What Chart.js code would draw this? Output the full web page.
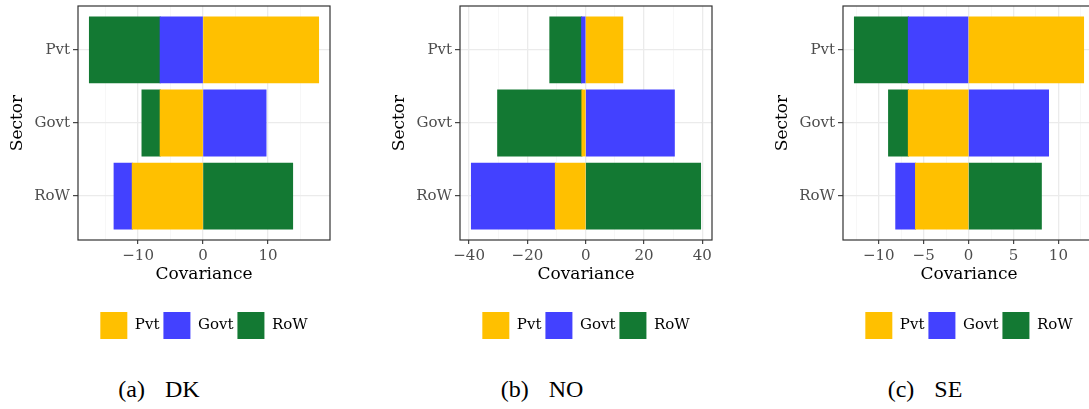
<!DOCTYPE html>
<html>
<head>
<meta charset="utf-8">
<script src="https://cdn.jsdelivr.net/npm/chart.js@4.4.1/dist/chart.umd.min.js"></script>
<style>
  body { margin: 0; width: 1089px; height: 409px; overflow: hidden; background: #fff; position: relative; }
  .panel { position: absolute; top: 0; }
  .caption {
    position: absolute; top: 377px; line-height: 24px;
    font-family: 'Liberation Serif', serif; font-size: 24px; color: #000;
    word-spacing: 14px; white-space: nowrap; transform: translateX(-50%);
  }
</style>
</head>
<body>
<div class="panel" style="left:0px"><canvas id="dk" width="382" height="349"></canvas></div>
<div class="panel" style="left:382px"><canvas id="no" width="382" height="349"></canvas></div>
<div class="panel" style="left:765px"><canvas id="se" width="382" height="349"></canvas></div>
<div class="caption" style="left:159px">(a) DK</div>
<div class="caption" style="left:542px">(b) NO</div>
<div class="caption" style="left:925px">(c) SE</div>

<script>
const sectors = ['Pvt', 'Govt', 'RoW'];
const seriesNames = ['Pvt', 'Govt', 'RoW'];
const seriesColors = ['#FFC000', '#4341FF', '#137933'];

// values per sector row (Pvt, Govt, RoW), one array per stacked series
const dkPvt  = [17.8, -6.6, -10.9];
const dkGovt = [-6.6, 9.7, -2.8];
const dkRoW  = [-10.9, -2.8, 13.8];
const dkTicks = [-10, 0, 10];

const noPvt  = [12.7, -1.3, -10.4];
const noGovt = [-1.4, 30.4, -28.8];
const noRoW  = [-10.9, -28.9, 39.4];
const noTicks = [-40, -20, 0, 20, 40];

const sePvt  = [12.8, -6.7, -5.9];
const seGovt = [-6.7, 8.9, -2.2];
const seRoW  = [-6.0, -2.2, 8.1];
const seTicks = [-10, -5, 0, 5, 10];

const serif = 'DejaVu Serif';

const panelBorder = {
  id: 'panelBorder',
  afterDatasetsDraw(chart) {
    const { ctx, chartArea: a } = chart;
    ctx.save();
    ctx.strokeStyle = '#333333';
    ctx.lineWidth = 1.2;
    ctx.strokeRect(a.left, a.top, a.right - a.left, a.bottom - a.top);
    ctx.restore();
  }
};

function fmt(v) {
  return v < 0 ? '\u2212' + Math.abs(v) : String(v);
}

function makeChart(id, series, majors) {
  // ggplot style range: stacked extent plus 5% each side
  let lo = 0, hi = 0;
  sectors.forEach((s, i) => {
    let neg = 0, pos = 0;
    series.forEach(vals => { if (vals[i] < 0) neg += vals[i]; else pos += vals[i]; });
    lo = Math.min(lo, neg);
    hi = Math.max(hi, pos);
  });
  const pad = (hi - lo) * 0.05;
  const xmin = lo - pad, xmax = hi + pad;

  const step = majors[1] - majors[0];
  const minors = [];
  for (let v = majors[0] - step / 2; v <= majors[majors.length - 1] + step / 2; v += step) {
    if (v > xmin && v < xmax) minors.push(v);
  }
  const isMajor = v => majors.includes(v);

  new Chart(document.getElementById(id), {
    type: 'bar',
    data: {
      datasets: series.map((vals, j) => ({
        label: seriesNames[j],
        data: vals.map((v, i) => ({ x: v, y: i + 1 })),
        backgroundColor: seriesColors[j],
        borderWidth: 0,
        inflateAmount: 0.5,
        stack: 'all',
        categoryPercentage: 0.9,
        barPercentage: 1
      }))
    },
    options: {
      indexAxis: 'y',
      responsive: false,
      animation: false,
      layout: { padding: { top: 6, right: 52, bottom: 0, left: 0 } },
      plugins: {
        tooltip: { enabled: false },
        legend: {
          position: 'bottom',
          fullSize: false,
          labels: {
            boxWidth: 27,
            boxHeight: 27,
            padding: 4,
            color: '#000',
            font: { family: serif, size: 15 }
          }
        }
      },
      scales: {
        x: {
          type: 'linear',
          stacked: true,
          min: xmin,
          max: xmax,
          afterBuildTicks: s => {
            s.ticks = majors.concat(minors).sort((a, b) => a - b).map(v => ({ value: v }));
          },
          afterFit: s => { s.height = 68; s.paddingLeft = 0; s.paddingRight = 0; },
          border: { display: false },
          grid: {
            color: c => isMajor(c.tick.value) ? '#EBEBEB' : '#F3F3F3',
            lineWidth: c => isMajor(c.tick.value) ? 1.3 : 0.7,
            tickColor: c => isMajor(c.tick.value) ? '#333333' : 'rgba(0,0,0,0)',
            tickWidth: 1.1,
            tickLength: 4
          },
          ticks: {
            autoSkip: false,
            maxRotation: 0,
            padding: 3,
            color: '#4D4D4D',
            font: { family: serif, size: 15 },
            callback: v => isMajor(v) ? fmt(v) : ''
          },
          title: {
            display: true,
            text: 'Covariance',
            color: '#000',
            font: { family: serif, size: 17 },
            padding: { top: 0, bottom: 23 }
          }
        },
        y: {
          type: 'linear',
          reverse: true,
          offset: false,
          min: 0.4,
          max: 3.6,
          afterBuildTicks: s => { s.ticks = sectors.map((c, i) => ({ value: i + 1 })); },
          afterFit: s => { s.width = 78; s.paddingTop = 0; s.paddingBottom = 0; },
          border: { display: false },
          grid: {
            offset: false,
            color: '#EBEBEB',
            lineWidth: 1.3,
            tickColor: '#333333',
            tickWidth: 1.1,
            tickLength: 5
          },
          ticks: {
            padding: 3,
            color: '#4D4D4D',
            font: { family: serif, size: 15 },
            callback: v => sectors[v - 1]
          },
          title: {
            display: true,
            text: 'Sector',
            color: '#000',
            font: { family: serif, size: 17 },
            padding: { top: 7, bottom: 0 }
          }
        }
      }
    },
    plugins: [panelBorder]
  });
}

makeChart('dk', [dkPvt, dkGovt, dkRoW], dkTicks);
makeChart('no', [noPvt, noGovt, noRoW], noTicks);
makeChart('se', [sePvt, seGovt, seRoW], seTicks);
</script>
</body>
</html>
